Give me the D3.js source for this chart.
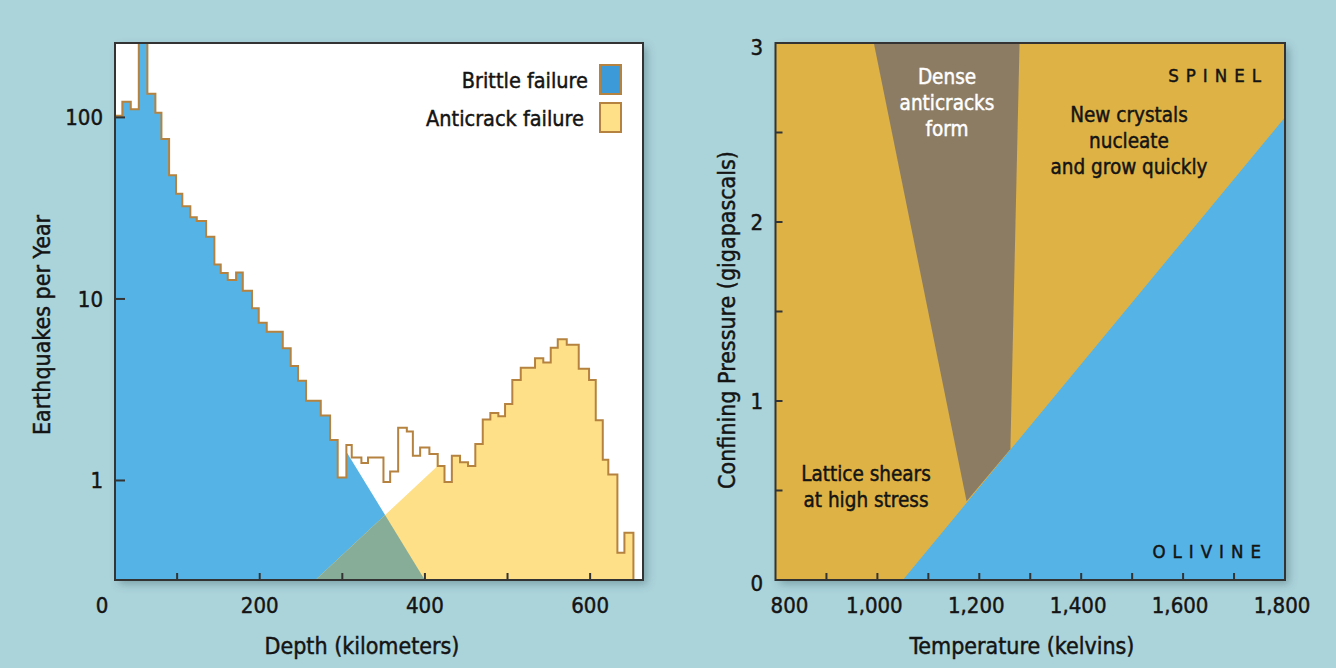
<!DOCTYPE html>
<html>
<head>
<meta charset="utf-8">
<script src="https://cdn.jsdelivr.net/npm/d3@7"></script>
<style>
  body { margin: 0; background: #abd3da; }
  svg text { font-family: "Liberation Sans Narrow", "DejaVu Sans Condensed", "Roboto Condensed", Roboto, sans-serif; fill: #141414; stroke: #141414; stroke-width: 0.45px; }
  svg text.light { fill: #fff; stroke: #fff; }
</style>
</head>
<body>
<svg id="chart" width="1336" height="668"></svg>
<script>
// ---------- Left panel: earthquakes per year by depth ----------
// Histogram bin edges (km) and rate in each bin (events per year)
const binEdges = [24.8, 33.7, 43.9, 53.6, 64.0, 73.7, 81.0, 90.3, 98.7, 106.3, 116.0, 123.8,
  135.1, 145.1, 152.8, 161.3, 171.4, 179.5, 190.7, 198.8, 208.5, 227.9, 237.5, 246.4,
  256.1, 273.9, 285.2, 294.4, 304.9, 311.4, 323.1, 331.1, 349.8, 357.9, 367.6, 378.1,
  385.4, 394.2, 405.4, 415.5, 423.7, 432.6, 442.5, 452.2, 461.0, 470.0, 479.2, 488.9,
  497.0, 505.8, 516.0, 533.3, 543.3, 552.3, 560.8, 571.7, 586.2, 598.7, 606.8, 615.3,
  622.0, 633.0, 641.5, 652.4];
const quakesPerYear = [102, 122, 111, 300, 135, 106, 76, 48, 38, 32.4, 28.2, 26.9,
  22.0, 15.5, 13.9, 12.7, 14.0, 11.1, 8.9, 7.4, 6.6, 5.35, 4.27, 3.54,
  2.75, 2.28, 1.67, 1.04, 1.57, 1.34, 1.25, 1.34, 0.98, 1.12, 1.95, 1.86,
  1.37, 1.52, 1.40, 1.20, 0.98, 1.37, 1.26, 1.20, 1.59, 2.17, 2.35, 2.26,
  2.64, 3.58, 4.18, 4.71, 4.46, 5.39, 5.99, 5.59, 4.13, 3.58, 2.15, 1.30,
  1.08, 0.40, 0.516];
const depthLabels = [0, 200, 400, 600];
const depthTicks = [100, 200, 300, 400, 500, 600];
const rateTicks = [1, 10, 100];
// Log-linear trend segments that bound the two failure modes
const brittleTrend = { depth: [304.9, 398.9], rate: [1.44, 0.288] };
const anticrackTrend = { depth: [268.2, 414.3], rate: [0.285, 1.19] };
const legendItems = ["Brittle failure", "Anticrack failure"];

// ---------- Right panel: phase diagram ----------
const tempLabels = [800, 1000, 1200, 1400, 1600, 1800];
const tempTicks = [900, 1000, 1100, 1200, 1300, 1400, 1500, 1600, 1700];
const pressureLabels = [0, 1, 2, 3];
const pressureTicks = [0.5, 1, 1.5, 2, 2.5];
const phaseBoundaryT = [1050, 1800];
const phaseBoundaryP = [0, 2.585];
const anticrackZoneT = [993, 1279, 1261, 1175];
const anticrackZoneP = [3, 3, 0.73, 0.44];

const C = {
  blue: "#55b3e5", yellow: "#fee088", green: "#87ad98", outline: "#b5823f",
  legendBlue: "#3d9ad8", gold: "#deb244", brown: "#8d7c64", frame: "#333"
};

const svg = d3.select("#chart");
const defs = svg.append("defs");
const shadow = defs.append("filter").attr("id", "shadow")
  .attr("x", "-5%").attr("y", "-5%").attr("width", "115%").attr("height", "115%");
shadow.append("feDropShadow").attr("dx", 4).attr("dy", 4).attr("stdDeviation", 4)
  .attr("flood-color", "#40606a").attr("flood-opacity", 0.45);

// ===== Left panel =====
const L = { left: 115, right: 643, top: 43, bottom: 580 };
const x = d3.scaleLinear().domain([24.8, 664]).range([L.left, L.right]);
const y = d3.scaleLog().domain([0.283, 257]).range([L.bottom, L.top]);

defs.append("clipPath").attr("id", "clipL").append("rect")
  .attr("x", L.left).attr("y", L.top).attr("width", L.right - L.left).attr("height", L.bottom - L.top);

svg.append("rect").attr("x", L.left).attr("y", L.top)
  .attr("width", L.right - L.left).attr("height", L.bottom - L.top)
  .attr("fill", "#fff").attr("filter", "url(#shadow)");

function trend(t, d) {
  const f = (d - t.depth[0]) / (t.depth[1] - t.depth[0]);
  return Math.exp(Math.log(t.rate[0]) + f * (Math.log(t.rate[1]) - Math.log(t.rate[0])));
}
const brittleCap = d => d < brittleTrend.depth[0] ? Infinity : trend(brittleTrend, d);
const anticrackCap = d => d > anticrackTrend.depth[1] ? Infinity : trend(anticrackTrend, d);

function sampled(capFn) {
  const pts = [];
  quakesPerYear.forEach((v, i) => {
    const a = binEdges[i], b = binEdges[i + 1];
    const ds = d3.range(a, b, 0.25).concat([b]);
    ds.forEach(d => pts.push([d, Math.max(1e-3, Math.min(v, capFn(d)))]));
  });
  return pts;
}
const area = d3.area().x(p => x(p[0])).y0(L.bottom + 5).y1(p => y(p[1]));

const gL = svg.append("g").attr("clip-path", "url(#clipL)");
gL.append("path").attr("d", area(sampled(brittleCap))).attr("fill", C.blue);
gL.append("path").attr("d", area(sampled(anticrackCap))).attr("fill", C.yellow);
gL.append("path").attr("d", area(sampled(d => Math.min(brittleCap(d), anticrackCap(d))))).attr("fill", C.green);

// Stepped histogram outline
const steps = [];
quakesPerYear.forEach((v, i) => { steps.push([binEdges[i], v]); steps.push([binEdges[i + 1], v]); });
steps.push([binEdges[binEdges.length - 1], 0.2]);
gL.append("path")
  .attr("d", d3.line().x(p => x(p[0])).y(p => y(p[1]))(steps))
  .attr("fill", "none").attr("stroke", C.outline).attr("stroke-width", 2).attr("stroke-linejoin", "miter");

// Frame and inward ticks
svg.append("rect").attr("x", L.left).attr("y", L.top)
  .attr("width", L.right - L.left).attr("height", L.bottom - L.top)
  .attr("fill", "none").attr("stroke", C.frame).attr("stroke-width", 2);
svg.append("g").selectAll("line").data(depthTicks).join("line")
  .attr("x1", d => x(d)).attr("x2", d => x(d)).attr("y1", L.bottom).attr("y2", L.bottom - 7)
  .attr("stroke", C.frame).attr("stroke-width", 2);
svg.append("g").selectAll("line").data(rateTicks).join("line")
  .attr("x1", L.left).attr("x2", L.left + 10).attr("y1", d => y(d)).attr("y2", d => y(d))
  .attr("stroke", C.frame).attr("stroke-width", 2);

svg.append("g").selectAll("text").data(depthLabels).join("text")
  .attr("x", d => d === 0 ? L.left - 13 : x(d)).attr("y", 613)
  .attr("text-anchor", "middle").attr("font-size", 22).text(d => d);
svg.append("g").selectAll("text").data(rateTicks).join("text")
  .attr("x", 103).attr("y", d => y(d)).attr("dy", "0.36em")
  .attr("text-anchor", "end").attr("font-size", 22).text(d => d);

svg.append("text").attr("transform", "translate(50,325) rotate(-90)")
  .attr("text-anchor", "middle").attr("font-size", 23).text("Earthquakes per Year");
svg.append("text").attr("x", 362).attr("y", 654)
  .attr("text-anchor", "middle").attr("font-size", 23).text("Depth (kilometers)");

// Legend
const leg = svg.append("g").selectAll("g").data(legendItems).join("g")
  .attr("transform", (d, i) => `translate(0,${65 + i * 38})`);
leg.append("rect").attr("x", 600).attr("y", 0).attr("width", 21).attr("height", 29)
  .attr("fill", (d, i) => i === 0 ? C.legendBlue : C.yellow)
  .attr("stroke", C.outline).attr("stroke-width", 2);
leg.append("text").attr("x", (d, i) => i === 0 ? 588 : 584).attr("y", 15).attr("dy", "0.36em")
  .attr("text-anchor", "end").attr("font-size", 21.5).text(d => d);

// ===== Right panel =====
const R = { left: 775.5, right: 1285, top: 43, bottom: 580 };
const tx = d3.scaleLinear().domain([800, 1800]).range([R.left, R.right]);
const py = d3.scaleLinear().domain([0, 3]).range([R.bottom, R.top]);

defs.append("clipPath").attr("id", "clipR").append("rect")
  .attr("x", R.left).attr("y", R.top).attr("width", R.right - R.left).attr("height", R.bottom - R.top);

svg.append("rect").attr("x", R.left).attr("y", R.top)
  .attr("width", R.right - R.left).attr("height", R.bottom - R.top)
  .attr("fill", C.gold).attr("filter", "url(#shadow)");

const gR = svg.append("g").attr("clip-path", "url(#clipR)");
const poly = d3.line().x(p => tx(p[0])).y(p => py(p[1]));
gR.append("path")
  .attr("d", poly(anticrackZoneT.map((t, i) => [t, anticrackZoneP[i]])) + "Z")
  .attr("fill", C.brown);
gR.append("path")
  .attr("d", poly([[phaseBoundaryT[0], phaseBoundaryP[0]], [phaseBoundaryT[1], phaseBoundaryP[1]],
                   [phaseBoundaryT[1], -0.1], [phaseBoundaryT[0], -0.1]]) + "Z")
  .attr("fill", C.blue);

svg.append("rect").attr("x", R.left).attr("y", R.top)
  .attr("width", R.right - R.left).attr("height", R.bottom - R.top)
  .attr("fill", "none").attr("stroke", C.frame).attr("stroke-width", 2);
svg.append("g").selectAll("line").data(tempTicks).join("line")
  .attr("x1", d => tx(d)).attr("x2", d => tx(d)).attr("y1", R.bottom).attr("y2", R.bottom - 7)
  .attr("stroke", C.frame).attr("stroke-width", 2);
svg.append("g").selectAll("line").data(pressureTicks).join("line")
  .attr("x1", R.left).attr("x2", R.left + 7).attr("y1", d => py(d)).attr("y2", d => py(d))
  .attr("stroke", C.frame).attr("stroke-width", 2);

svg.append("g").selectAll("text").data(tempLabels).join("text")
  .attr("x", d => d === 800 ? tx(d) + 14 : tx(d) - 3).attr("y", 613)
  .attr("text-anchor", "middle").attr("font-size", 22).text(d => d3.format(",")(d));
svg.append("g").selectAll("text").data(pressureLabels).join("text")
  .attr("x", 763).attr("y", d => py(d) + (d === 0 ? 3 : d === 3 ? 4 : 0)).attr("dy", "0.36em")
  .attr("text-anchor", "end").attr("font-size", 22).text(d => d);

svg.append("text").attr("transform", "translate(735,320) rotate(-90)")
  .attr("text-anchor", "middle").attr("font-size", 23).text("Confining Pressure (gigapascals)");
svg.append("text").attr("x", 1022).attr("y", 654)
  .attr("text-anchor", "middle").attr("font-size", 23).text("Temperature (kelvins)");

// Region annotations
function block(lines, cx, y0, cls, size) {
  svg.append("text").attr("text-anchor", "middle").attr("font-size", size)
    .attr("class", cls)
    .selectAll("tspan").data(lines).join("tspan")
    .attr("x", cx).attr("y", (d, i) => y0 + i * 26).text(d => d);
}
block(["Dense", "anticracks", "form"], 947, 84, "light", 20.5);
block(["New crystals", "nucleate", "and grow quickly"], 1129, 122, "dark", 20.5);
block(["Lattice shears", "at high stress"], 866, 481, "dark", 20.5);

svg.append("text").attr("x", 1268).attr("y", 82).attr("text-anchor", "end")
  .attr("font-size", 18.5).attr("letter-spacing", 7).text("SPINEL");
svg.append("text").attr("x", 1268).attr("y", 558).attr("text-anchor", "end")
  .attr("font-size", 18.5).attr("letter-spacing", 7).text("OLIVINE");
</script>
</body>
</html>
